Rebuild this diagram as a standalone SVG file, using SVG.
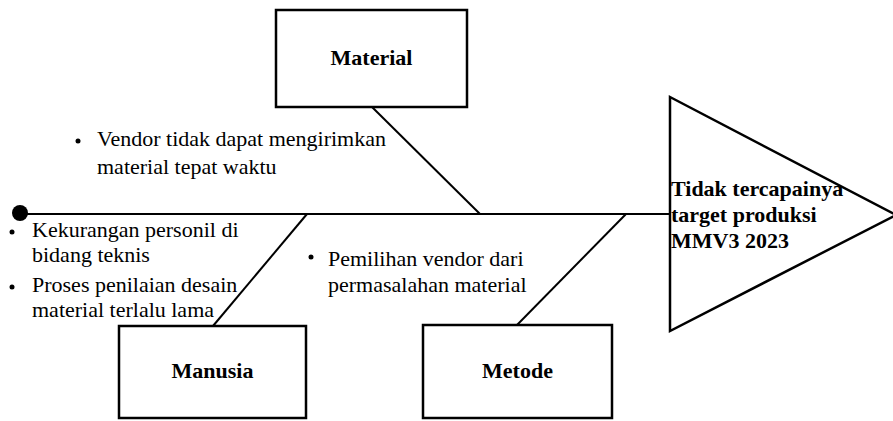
<svg xmlns="http://www.w3.org/2000/svg" width="893" height="421" viewBox="0 0 893 421">
<style>
.box{fill:#fff;stroke:#000;stroke-width:2.5}
.ln{fill:none;stroke:#000;stroke-width:2}
.lbl{font-family:"Liberation Serif","Times New Roman",serif;font-size:22px;font-weight:bold;fill:#000}
.txt{font-family:"Liberation Serif","Times New Roman",serif;font-size:22px;fill:#000}
</style>
<rect width="893" height="421" fill="#fff"/>
<g id="connectors">
<line class="ln" x1="20" y1="214" x2="670" y2="214" stroke-width="2.5"/>
<line class="ln" x1="372" y1="107" x2="480" y2="214"/>
<line class="ln" x1="213" y1="326" x2="307" y2="214"/>
<line class="ln" x1="517" y1="325" x2="626" y2="214"/>
<circle cx="20" cy="213" r="8" fill="#000"/>
</g>
<g id="material">
<rect class="box" x="276" y="10" width="191" height="97"/>
<text class="lbl" x="371.5" y="65" text-anchor="middle">Material</text>
</g>
<g id="manusia">
<rect class="box" x="119" y="326" width="187" height="92"/>
<text class="lbl" x="212.5" y="378" text-anchor="middle">Manusia</text>
</g>
<g id="metode">
<rect class="box" x="423" y="325" width="189" height="93"/>
<text class="lbl" x="517.5" y="378" text-anchor="middle">Metode</text>
</g>
<g id="effect">
<polygon class="box" points="670,97 896,215 670,331"/>
<text class="lbl"><tspan x="671" y="196">Tidak tercapainya</tspan><tspan x="671" y="222">target produksi</tspan><tspan x="671" y="248">MMV3 2023</tspan></text>
</g>
<g id="material-causes">
<circle cx="78" cy="141" r="2.5" fill="#000"/>
<text class="txt"><tspan x="97" y="146">Vendor tidak dapat mengirimkan</tspan><tspan x="97" y="174">material tepat waktu</tspan></text>
</g>
<g id="manusia-causes">
<circle cx="12" cy="232" r="2.5" fill="#000"/>
<text class="txt"><tspan x="32" y="237">Kekurangan personil di</tspan><tspan x="32" y="262">bidang teknis</tspan></text>
<circle cx="12" cy="287" r="2.5" fill="#000"/>
<text class="txt"><tspan x="32" y="292">Proses penilaian desain</tspan><tspan x="32" y="317">material terlalu lama</tspan></text>
</g>
<g id="metode-causes">
<circle cx="311" cy="257" r="2.5" fill="#000"/>
<text class="txt"><tspan x="328" y="266">Pemilihan vendor dari</tspan><tspan x="328" y="292">permasalahan material</tspan></text>
</g>
</svg>
